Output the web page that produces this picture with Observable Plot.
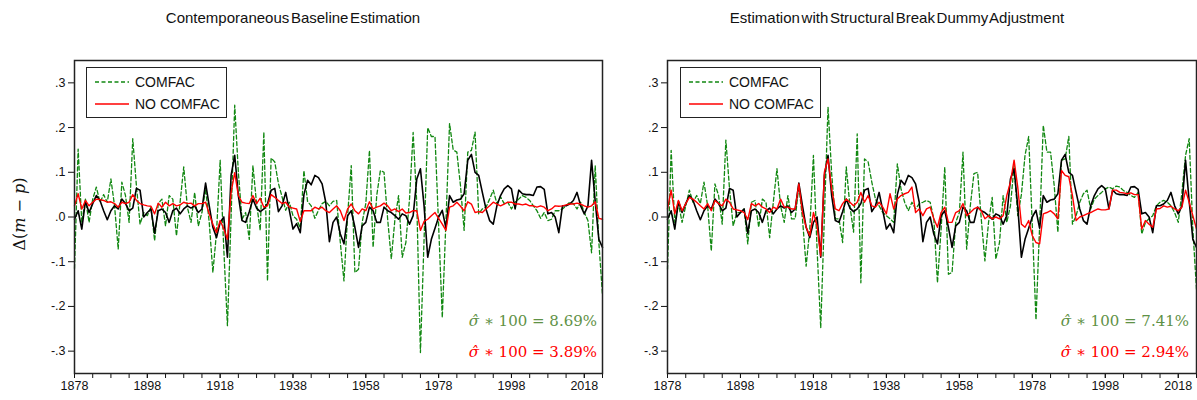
<!DOCTYPE html>
<html><head><meta charset="utf-8">
<script src="https://cdn.jsdelivr.net/npm/d3@7"></script>
<script src="https://cdn.jsdelivr.net/npm/@observablehq/plot@0.6"></script>
<style>
body{margin:0;background:#fff;}
#wrap{position:relative;width:1197px;height:400px;overflow:hidden;font-family:"Liberation Sans",Arial,sans-serif;color:#111;}
.title{position:absolute;top:9px;font-size:15px;white-space:nowrap;transform:translateX(-50%);word-spacing:-2.5px;}
.panel{position:absolute;top:40px;}
.legend{position:absolute;top:67px;width:139px;height:49px;border:1px solid #222;background:#fff;font-size:14px;}
.legend .row{position:absolute;left:8px;height:20px;display:flex;align-items:center;}
.legend svg{margin-right:6px;}
.sig{position:absolute;font-family:"DejaVu Serif","Liberation Serif",serif;font-size:15px;white-space:nowrap;transform:translate(-100%,-50%);}
.ylab{position:absolute;left:19px;top:214px;transform:translate(-50%,-50%) rotate(-90deg);font-family:"DejaVu Serif","Liberation Serif",serif;font-size:16px;white-space:nowrap;}
</style></head>
<body><div id="wrap"></div>
<script>
// ---------- data (annual, 1878-2023) ----------
const years = d3.range(1878, 2024);

const actual = [
-0.005, 0.014,-0.027, 0.035, 0.010, 0.030, 0.048, 0.037, 0.014,-0.006,
 0.014, 0.025, 0.018, 0.040, 0.030, 0.014, 0.020, 0.064, 0.060, 0.000,
 0.010, 0.018,-0.036, 0.014, 0.018, 0.010,-0.012, 0.014, 0.020, 0.007,
 0.018, 0.025, 0.020, 0.025, 0.010, 0.018, 0.076, 0.025,-0.023,-0.046,
-0.012, 0.000,-0.090, 0.093, 0.138, 0.048,-0.008,-0.012, 0.012, 0.040,
 0.020, 0.012, 0.018, 0.030, 0.060, 0.064, 0.012, 0.025, 0.055, 0.015,
-0.027,-0.015,-0.035, 0.050, 0.082, 0.072, 0.093, 0.088, 0.074, 0.033,
-0.055,-0.012, 0.000,-0.038,-0.060, 0.003, 0.014,-0.023,-0.068,-0.020,
-0.012, 0.022, 0.014,-0.012,-0.012, 0.022, 0.014, 0.010, 0.003,-0.005,
 0.007, 0.003,-0.016, 0.003, 0.085, 0.108, 0.025,-0.090,-0.050,-0.025,
 0.000, 0.015,-0.025, 0.048, 0.033, 0.038, 0.040, 0.052, 0.127, 0.140,
 0.100, 0.093, 0.055, 0.018,-0.008,-0.016, 0.025, 0.048, 0.063, 0.070,
 0.063, 0.018, 0.060, 0.052, 0.050, 0.050, 0.048, 0.067, 0.068, 0.062,
 0.007, 0.010, 0.000,-0.035, 0.025, 0.025, 0.029, 0.037, 0.055, 0.025,
 0.007, 0.025, 0.127, 0.035,-0.050,-0.068];

const comfacBase = [
-0.115, 0.152,-0.012, 0.040,-0.012, 0.040, 0.067, 0.033, 0.050, 0.033,
 0.085, 0.025,-0.072, 0.078, 0.048,-0.012, 0.175, 0.070,-0.016, 0.010,
 0.003, 0.022,-0.053, 0.030, 0.040,-0.020, 0.048, 0.040,-0.042, 0.033,
 0.112, 0.022,-0.012, 0.055,-0.020, 0.010, 0.063,-0.012,-0.124,-0.035,
 0.127,-0.072,-0.243, 0.000, 0.250, 0.100,-0.005, 0.010,-0.050, 0.115,
 0.030,-0.030, 0.190,-0.143, 0.132, 0.123, 0.075, 0.045, 0.015, 0.033,
 0.003,-0.005,-0.025, 0.104, 0.035, 0.025,-0.003, 0.015, 0.030, 0.035,
 0.025, 0.035, 0.037,-0.057,-0.143, 0.003, 0.115,-0.124,-0.117,-0.012,
 0.030, 0.149,-0.068, 0.048, 0.104, 0.100,-0.005,-0.094,-0.005, 0.048,
-0.090,-0.057, 0.040, 0.189, 0.030,-0.303,-0.050, 0.200, 0.180, 0.180,
-0.020,-0.225,-0.010, 0.209, 0.150, 0.145, 0.070,-0.030, 0.145, 0.149,
 0.190, 0.007, 0.018, 0.022, 0.040, 0.060, 0.030, 0.045, 0.030, 0.033,
 0.018, 0.033, 0.040, 0.048, 0.044, 0.037, 0.025, 0.014,-0.003, 0.010,
-0.008,-0.005, 0.014, 0.014, 0.018, 0.025, 0.033, 0.030, 0.018, 0.033,
 0.010,-0.008,-0.080, 0.115,-0.057,-0.175];

const nocomfacBase = [
 0.025, 0.052, 0.018, 0.037, 0.025, 0.033, 0.040, 0.039, 0.037, 0.033,
 0.034, 0.030, 0.022, 0.033, 0.030, 0.033, 0.050, 0.037, 0.030, 0.027,
 0.025, 0.024, 0.007, 0.031, 0.022, 0.033, 0.025, 0.030, 0.025, 0.027,
 0.033, 0.030, 0.031, 0.025, 0.030, 0.030, 0.033, 0.007,-0.016,-0.035,
-0.008,-0.027,-0.050, 0.055, 0.099, 0.048, 0.033, 0.031, 0.030, 0.048,
 0.030, 0.042, 0.022, 0.025, 0.050, 0.044, 0.037, 0.030, 0.033, 0.022,
 0.020, 0.018,-0.010, 0.014, 0.014, 0.014, 0.022, 0.018, 0.022, 0.014,
 0.010, 0.018, 0.025, 0.014,-0.008, 0.018, 0.029, 0.014, 0.007, 0.018,
 0.014, 0.034, 0.018, 0.022, 0.025, 0.031, 0.025, 0.014, 0.018, 0.012,
 0.018, 0.009, 0.010, 0.014, 0.014,-0.030,-0.010,-0.005, 0.003, 0.010,
-0.003,-0.016,-0.030, 0.022, 0.025, 0.033, 0.024, 0.014, 0.034, 0.029,
 0.010, 0.012, 0.010, 0.018, 0.025, 0.033, 0.029, 0.025, 0.029, 0.033,
 0.033, 0.029, 0.029, 0.027, 0.029, 0.025, 0.025, 0.022, 0.025, 0.022,
 0.014, 0.018, 0.025, 0.024, 0.025, 0.027, 0.029, 0.029, 0.031, 0.029,
 0.025, 0.022, 0.025, 0.034,-0.003,-0.005];

const comfacBreak = [
-0.117, 0.149,-0.012, 0.030,-0.012, 0.025, 0.060, 0.033, 0.048, 0.030,
 0.078, 0.025,-0.076, 0.074, 0.048,-0.016, 0.172, 0.063,-0.020, 0.010,
 0.010, 0.018,-0.060, 0.033, 0.037,-0.023, 0.040, 0.033,-0.046, 0.033,
 0.108, 0.025,-0.012, 0.048,-0.004,-0.004, 0.070,-0.004,-0.110,-0.027,
 0.138,-0.072,-0.248, 0.000, 0.246, 0.097,-0.004,-0.004,-0.057, 0.112,
 0.025,-0.034, 0.186,-0.147, 0.130, 0.123, 0.078, 0.040, 0.025, 0.010,
 0.003,-0.004,-0.012, 0.119, 0.063, 0.033, 0.014, 0.033, 0.018, 0.030,
 0.033, 0.037, 0.033,-0.004,-0.147,-0.027, 0.112,-0.128,-0.124,-0.012,
 0.010, 0.145,-0.072, 0.025, 0.097, 0.100,-0.004,-0.098,-0.012, 0.044,
-0.094,-0.057, 0.048,-0.012, 0.025, 0.115, 0.003, 0.050, 0.138, 0.180,
-0.020,-0.230,-0.020, 0.205, 0.145, 0.145, 0.070,-0.034, 0.127, 0.130,
 0.180,-0.016, 0.003, 0.033, 0.052, 0.060, 0.018, 0.040, 0.048, 0.055,
 0.063, 0.067, 0.063, 0.069, 0.067, 0.059, 0.055, 0.048, 0.044, 0.055,
-0.038,-0.012,-0.004, 0.003, 0.025, 0.033, 0.037, 0.033, 0.025, 0.010,
-0.012, 0.055, 0.138, 0.175,-0.027,-0.162];

const nocomfacBreak = [
 0.018, 0.060, 0.007, 0.037, 0.014, 0.030, 0.044, 0.040, 0.033, 0.025,
 0.018, 0.030, 0.014, 0.037, 0.030, 0.025, 0.040, 0.033, 0.018, 0.016,
 0.014, 0.010,-0.006, 0.030, 0.025, 0.030, 0.022, 0.018, 0.010, 0.022,
 0.018, 0.040, 0.022, 0.022, 0.018, 0.018, 0.074, 0.010,-0.023,-0.042,
 0.010,-0.020,-0.087, 0.100, 0.130, 0.063, 0.018, 0.014, 0.030, 0.040,
 0.033, 0.025, 0.033, 0.055, 0.033, 0.048, 0.025, 0.022, 0.033, 0.022,
 0.007, 0.052, 0.018, 0.040, 0.048, 0.052, 0.055, 0.067, 0.010, 0.018,
 0.003, 0.018, 0.022,-0.004,-0.023, 0.010, 0.022,-0.012,-0.012, 0.010,
 0.014, 0.030, 0.003, 0.010, 0.018, 0.022, 0.014,-0.004, 0.003,-0.004,
 0.000,-0.004, 0.003, 0.048, 0.078, 0.127, 0.067,-0.016,-0.023,-0.008,
-0.042,-0.057,-0.060, 0.007, 0.010, 0.014, 0.007,-0.004, 0.104, 0.093,
 0.090, 0.048,-0.008, 0.000, 0.003, 0.007, 0.010, 0.014, 0.018, 0.016,
 0.016, 0.018, 0.060, 0.060, 0.055, 0.054, 0.052, 0.054, 0.050, 0.050,
-0.027,-0.008,-0.016,-0.023, 0.018, 0.019, 0.025, 0.022, 0.024, 0.018,
 0.014, 0.022, 0.060, 0.033, 0.003,-0.027];

const yTicks = [-0.3, -0.2, -0.1, 0, 0.1, 0.2, 0.3];
const xMinorTicks = d3.range(1878, 2024, 5);
const xLabelTicks = [1878, 1898, 1918, 1938, 1958, 1978, 1998, 2018];
const titles = ["Contemporaneous Baseline Estimation", "Estimation with Structural Break Dummy Adjustment"];
const legendLabels = ["COMFAC", "NO COMFAC"];
const sigmaComfac = ["8.69%", "7.41%"];
const sigmaNoComfac = ["3.89%", "2.94%"];

// ---------- drawing ----------
const GREEN = "#118811", RED = "#ff0000", SIGGREEN = "#5f9146";
const wrap = document.getElementById("wrap");
const yFmt = d => d === 0 ? ".0" : (d < 0 ? "-" : "") + "." + Math.round(Math.abs(d) * 10);

function makePanel(comfac, nocomfac, opts) {
  const rows = years.map((yr, i) => ({year: yr, actual: actual[i], comfac: comfac[i], nocomfac: nocomfac[i]}));
  return Plot.plot({
    width: opts.width, height: 360,
    marginTop: 20, marginBottom: 27, marginLeft: opts.ml, marginRight: opts.mr,
    style: {fontFamily: '"Liberation Sans", Arial, sans-serif', fontSize: "12.5px", color: "#111", background: "transparent", overflow: "visible"},
    x: {domain: [1878, 2023], label: null},
    y: {domain: [-0.35, 0.35], label: null},
    marks: [
      Plot.axisY({ticks: yTicks, tickFormat: yFmt, tickSize: 6, tickPadding: 3, label: null}),
      Plot.axisX({ticks: xMinorTicks, tickFormat: () => "", tickSize: 5, label: null}),
      Plot.axisX({ticks: xLabelTicks, tickFormat: d => String(d), tickSize: 5, tickPadding: 3, label: null}),
      Plot.line(rows, {x: "year", y: "comfac", stroke: GREEN, strokeWidth: 1.3, strokeDasharray: "4,2.5"}),
      Plot.line(rows, {x: "year", y: "actual", stroke: "#000", strokeWidth: 1.6}),
      Plot.line(rows, {x: "year", y: "nocomfac", stroke: RED, strokeWidth: 1.4}),
      Plot.frame({stroke: "#222", strokeWidth: 1.5})
    ]
  });
}

const panels = [
  {left: 0, width: 604, ml: 74, mr: 2, comfac: comfacBase, nocomfac: nocomfacBase, titleX: 293, legX: 86, sigX: 597},
  {left: 604, width: 593, ml: 63, mr: 1, comfac: comfacBreak, nocomfac: nocomfacBreak, titleX: 897, legX: 680, sigX: 1189}
];

panels.forEach((p, k) => {
  const div = document.createElement("div");
  div.className = "panel";
  div.style.left = p.left + "px";
  div.appendChild(makePanel(p.comfac, p.nocomfac, p));
  wrap.appendChild(div);

  const t = document.createElement("div");
  t.className = "title"; t.style.left = p.titleX + "px"; t.textContent = titles[k];
  wrap.appendChild(t);

  const lg = document.createElement("div");
  lg.className = "legend"; lg.style.left = p.legX + "px";
  lg.innerHTML =
    `<div class="row" style="top:4px"><svg width="34" height="4"><line x1="0" y1="2" x2="34" y2="2" stroke="${GREEN}" stroke-width="1.3" stroke-dasharray="4,2.5"/></svg>${legendLabels[0]}</div>` +
    `<div class="row" style="top:26px"><svg width="34" height="4"><line x1="0" y1="2" x2="34" y2="2" stroke="${RED}" stroke-width="1.4"/></svg>${legendLabels[1]}</div>`;
  wrap.appendChild(lg);

  const s1 = document.createElement("div");
  s1.className = "sig"; s1.style.left = p.sigX + "px"; s1.style.top = "321px"; s1.style.color = SIGGREEN;
  s1.innerHTML = `<i>σ̂</i> ∗ 100 = ${sigmaComfac[k]}`;
  wrap.appendChild(s1);
  const s2 = document.createElement("div");
  s2.className = "sig"; s2.style.left = p.sigX + "px"; s2.style.top = "352px"; s2.style.color = RED;
  s2.innerHTML = `<i>σ̂</i> ∗ 100 = ${sigmaNoComfac[k]}`;
  wrap.appendChild(s2);
});

const yl = document.createElement("div");
yl.className = "ylab";
yl.innerHTML = "Δ(<i>m</i> − <i>p</i>)";
wrap.appendChild(yl);
</script>
</body></html>
